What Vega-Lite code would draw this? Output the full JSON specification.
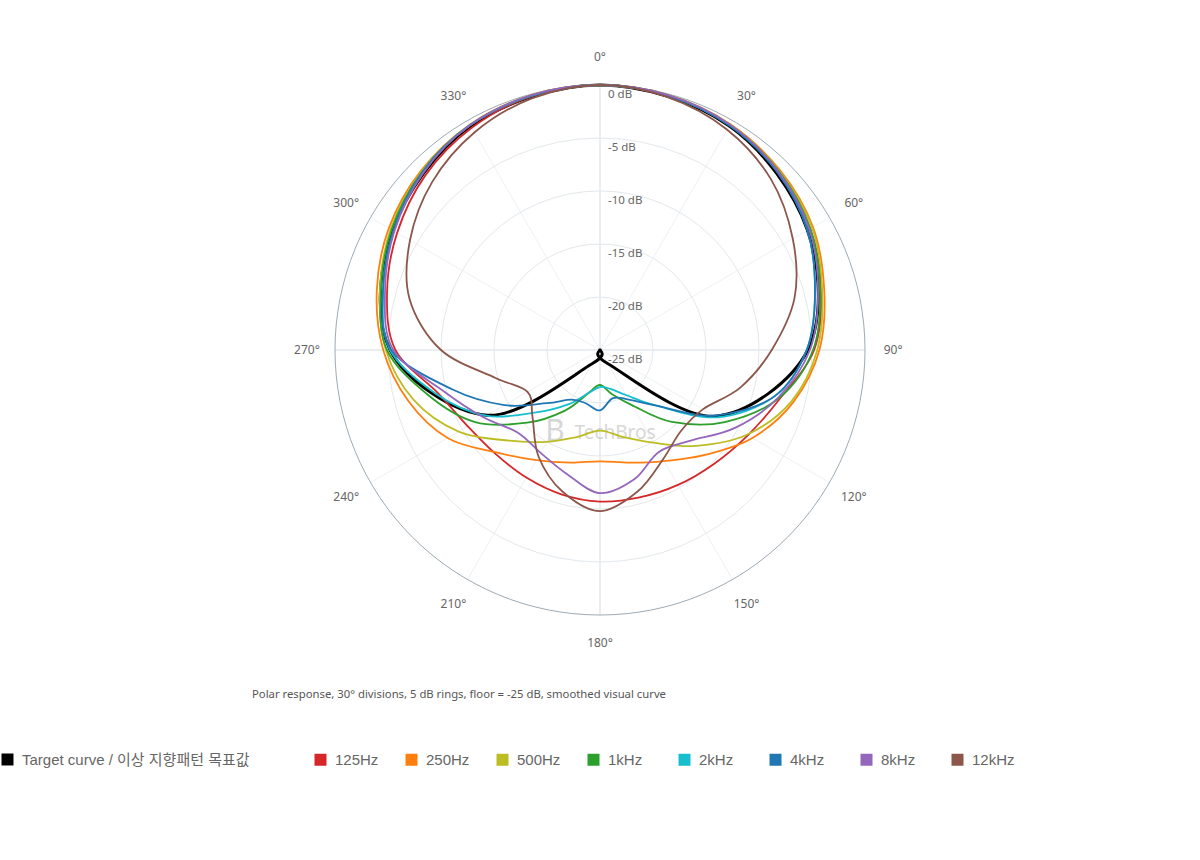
{
  "$schema": "https://vega.github.io/schema/vega-lite/v6.json",
  "width": 530,
  "height": 530,
  "autosize": {"type": "none"},
  "padding": {"left": 335, "top": 85, "right": 335, "bottom": 245},
  "background": "white",
  "config": {"view": {"stroke": null}, "font": "Noto Sans, Noto Sans CJK KR"},
  "title": {
    "text": "Polar response, 30° divisions, 5 dB rings, floor = -25 dB, smoothed visual curve",
    "orient": "bottom", "anchor": "start", "frame": "group",
    "offset": -79, "dx": -83, "fontSize": 11.3, "fontWeight": "normal",
    "color": "#555555", "font": "Noto Sans"
  },
  "datasets": {
    "rings": [{"ring": -20}, {"ring": -15}, {"ring": -10}, {"ring": -5}, {"ring": 0}],
    "ringLabels": [
      {"ring": 0, "label": "0 dB"}, {"ring": -5, "label": "-5 dB"}, {"ring": -10, "label": "-10 dB"},
      {"ring": -15, "label": "-15 dB"}, {"ring": -20, "label": "-20 dB"}, {"ring": -25, "label": "-25 dB"}
    ],
    "spokes": [
      {"angle": 0, "label": "0°"}, {"angle": 30, "label": "30°"}, {"angle": 60, "label": "60°"},
      {"angle": 90, "label": "90°"}, {"angle": 120, "label": "120°"}, {"angle": 150, "label": "150°"},
      {"angle": 180, "label": "180°"}, {"angle": 210, "label": "210°"}, {"angle": 240, "label": "240°"},
      {"angle": 270, "label": "270°"}, {"angle": 300, "label": "300°"}, {"angle": 330, "label": "330°"}
    ],
    "watermark": [
      {"text": "TechBros", "wx": 1.42, "wy": -7.83, "kind": "word"},
      {"text": "B", "wx": -4.25, "wy": -7.7, "kind": "logo"}
    ],
    "target": [
      {"series": "Target curve / 이상 지향패턴 목표값", "angle": 0, "db": 0},
      {"series": "Target curve / 이상 지향패턴 목표값", "angle": 30, "db": -0.6},
      {"series": "Target curve / 이상 지향패턴 목표값", "angle": 60, "db": -2.4},
      {"series": "Target curve / 이상 지향패턴 목표값", "angle": 90, "db": -5.4},
      {"series": "Target curve / 이상 지향패턴 목표값", "angle": 120, "db": -12.5},
      {"series": "Target curve / 이상 지향패턴 목표값", "angle": 150, "db": -23.5},
      {"series": "Target curve / 이상 지향패턴 목표값", "angle": 180, "db": -25},
      {"series": "Target curve / 이상 지향패턴 목표값", "angle": 210, "db": -23.5},
      {"series": "Target curve / 이상 지향패턴 목표값", "angle": 240, "db": -12.7},
      {"series": "Target curve / 이상 지향패턴 목표값", "angle": 270, "db": -5.2},
      {"series": "Target curve / 이상 지향패턴 목표값", "angle": 300, "db": -2.4},
      {"series": "Target curve / 이상 지향패턴 목표값", "angle": 330, "db": -0.6}
    ],
    "curves": [
      {"series": "125Hz", "angle": 0, "db": 0}, {"series": "125Hz", "angle": 15, "db": -0.15},
      {"series": "125Hz", "angle": 30, "db": -0.5}, {"series": "125Hz", "angle": 45, "db": -1.2},
      {"series": "125Hz", "angle": 60, "db": -2.1}, {"series": "125Hz", "angle": 75, "db": -3.4},
      {"series": "125Hz", "angle": 90, "db": -4.8}, {"series": "125Hz", "angle": 105, "db": -7.4},
      {"series": "125Hz", "angle": 120, "db": -8.9}, {"series": "125Hz", "angle": 135, "db": -9.8},
      {"series": "125Hz", "angle": 150, "db": -10.3}, {"series": "125Hz", "angle": 165, "db": -10.6},
      {"series": "125Hz", "angle": 180, "db": -10.7}, {"series": "125Hz", "angle": 195, "db": -10.9},
      {"series": "125Hz", "angle": 210, "db": -11.1}, {"series": "125Hz", "angle": 225, "db": -11.1},
      {"series": "125Hz", "angle": 240, "db": -10.6}, {"series": "125Hz", "angle": 255, "db": -9.2},
      {"series": "125Hz", "angle": 270, "db": -5.7}, {"series": "125Hz", "angle": 285, "db": -4.2},
      {"series": "125Hz", "angle": 300, "db": -2.9}, {"series": "125Hz", "angle": 315, "db": -1.7},
      {"series": "125Hz", "angle": 330, "db": -0.8}, {"series": "125Hz", "angle": 345, "db": -0.2},

      {"series": "250Hz", "angle": 0, "db": 0}, {"series": "250Hz", "angle": 15, "db": -0.1},
      {"series": "250Hz", "angle": 30, "db": -0.4}, {"series": "250Hz", "angle": 45, "db": -1.0},
      {"series": "250Hz", "angle": 60, "db": -1.8}, {"series": "250Hz", "angle": 75, "db": -3.1},
      {"series": "250Hz", "angle": 90, "db": -4.3}, {"series": "250Hz", "angle": 105, "db": -6.1},
      {"series": "250Hz", "angle": 120, "db": -8.4}, {"series": "250Hz", "angle": 135, "db": -11.0},
      {"series": "250Hz", "angle": 150, "db": -12.9}, {"series": "250Hz", "angle": 165, "db": -14.0},
      {"series": "250Hz", "angle": 180, "db": -14.5}, {"series": "250Hz", "angle": 195, "db": -14.0},
      {"series": "250Hz", "angle": 210, "db": -13.0}, {"series": "250Hz", "angle": 225, "db": -11.3},
      {"series": "250Hz", "angle": 240, "db": -8.4}, {"series": "250Hz", "angle": 255, "db": -6.3},
      {"series": "250Hz", "angle": 270, "db": -4.55}, {"series": "250Hz", "angle": 285, "db": -3.2},
      {"series": "250Hz", "angle": 300, "db": -2.0}, {"series": "250Hz", "angle": 315, "db": -1.1},
      {"series": "250Hz", "angle": 330, "db": -0.45}, {"series": "250Hz", "angle": 345, "db": -0.1},

      {"series": "500Hz", "angle": 0, "db": 0}, {"series": "500Hz", "angle": 15, "db": -0.1},
      {"series": "500Hz", "angle": 30, "db": -0.45}, {"series": "500Hz", "angle": 45, "db": -1.1},
      {"series": "500Hz", "angle": 60, "db": -1.9}, {"series": "500Hz", "angle": 75, "db": -3.3},
      {"series": "500Hz", "angle": 90, "db": -4.5}, {"series": "500Hz", "angle": 105, "db": -6.3},
      {"series": "500Hz", "angle": 120, "db": -9.0}, {"series": "500Hz", "angle": 135, "db": -12.2},
      {"series": "500Hz", "angle": 150, "db": -14.9}, {"series": "500Hz", "angle": 165, "db": -16.5},
      {"series": "500Hz", "angle": 180, "db": -17.4}, {"series": "500Hz", "angle": 195, "db": -16.5},
      {"series": "500Hz", "angle": 210, "db": -15.0}, {"series": "500Hz", "angle": 225, "db": -12.9},
      {"series": "500Hz", "angle": 240, "db": -9.6}, {"series": "500Hz", "angle": 255, "db": -6.8},
      {"series": "500Hz", "angle": 270, "db": -4.8}, {"series": "500Hz", "angle": 285, "db": -3.5},
      {"series": "500Hz", "angle": 300, "db": -2.2}, {"series": "500Hz", "angle": 315, "db": -1.2},
      {"series": "500Hz", "angle": 330, "db": -0.5}, {"series": "500Hz", "angle": 345, "db": -0.1},

      {"series": "1kHz", "angle": 0, "db": 0}, {"series": "1kHz", "angle": 15, "db": -0.15},
      {"series": "1kHz", "angle": 30, "db": -0.5}, {"series": "1kHz", "angle": 45, "db": -1.15},
      {"series": "1kHz", "angle": 60, "db": -2.1}, {"series": "1kHz", "angle": 75, "db": -3.5},
      {"series": "1kHz", "angle": 90, "db": -4.9}, {"series": "1kHz", "angle": 105, "db": -7.5},
      {"series": "1kHz", "angle": 120, "db": -11.4}, {"series": "1kHz", "angle": 135, "db": -15.4},
      {"series": "1kHz", "angle": 150, "db": -19.0}, {"series": "1kHz", "angle": 165, "db": -20.7},
      {"series": "1kHz", "angle": 180, "db": -21.7}, {"series": "1kHz", "angle": 195, "db": -20.8},
      {"series": "1kHz", "angle": 210, "db": -18.4}, {"series": "1kHz", "angle": 225, "db": -15.3},
      {"series": "1kHz", "angle": 240, "db": -11.4}, {"series": "1kHz", "angle": 255, "db": -8.3},
      {"series": "1kHz", "angle": 270, "db": -4.9}, {"series": "1kHz", "angle": 285, "db": -3.6},
      {"series": "1kHz", "angle": 300, "db": -2.3}, {"series": "1kHz", "angle": 315, "db": -1.25},
      {"series": "1kHz", "angle": 330, "db": -0.5}, {"series": "1kHz", "angle": 345, "db": -0.15},

      {"series": "2kHz", "angle": 0, "db": 0}, {"series": "2kHz", "angle": 15, "db": -0.15},
      {"series": "2kHz", "angle": 30, "db": -0.55}, {"series": "2kHz", "angle": 45, "db": -1.3},
      {"series": "2kHz", "angle": 60, "db": -2.4}, {"series": "2kHz", "angle": 75, "db": -4.0},
      {"series": "2kHz", "angle": 90, "db": -5.5}, {"series": "2kHz", "angle": 105, "db": -8.0},
      {"series": "2kHz", "angle": 120, "db": -12.3}, {"series": "2kHz", "angle": 135, "db": -17.6},
      {"series": "2kHz", "angle": 150, "db": -20.1}, {"series": "2kHz", "angle": 165, "db": -21.2},
      {"series": "2kHz", "angle": 180, "db": -21.5}, {"series": "2kHz", "angle": 195, "db": -20.8},
      {"series": "2kHz", "angle": 210, "db": -19.1}, {"series": "2kHz", "angle": 225, "db": -16.7},
      {"series": "2kHz", "angle": 240, "db": -12.6}, {"series": "2kHz", "angle": 255, "db": -9.0},
      {"series": "2kHz", "angle": 270, "db": -5.2}, {"series": "2kHz", "angle": 285, "db": -3.8},
      {"series": "2kHz", "angle": 300, "db": -2.5}, {"series": "2kHz", "angle": 315, "db": -1.3},
      {"series": "2kHz", "angle": 330, "db": -0.5}, {"series": "2kHz", "angle": 345, "db": -0.15},

      {"series": "4kHz", "angle": 0, "db": 0}, {"series": "4kHz", "angle": 15, "db": -0.15},
      {"series": "4kHz", "angle": 30, "db": -0.55}, {"series": "4kHz", "angle": 45, "db": -1.3},
      {"series": "4kHz", "angle": 60, "db": -2.4}, {"series": "4kHz", "angle": 75, "db": -4.0},
      {"series": "4kHz", "angle": 90, "db": -5.5}, {"series": "4kHz", "angle": 105, "db": -8.0},
      {"series": "4kHz", "angle": 120, "db": -12.6}, {"series": "4kHz", "angle": 135, "db": -17.6},
      {"series": "4kHz", "angle": 150, "db": -19.6}, {"series": "4kHz", "angle": 165, "db": -20.3},
      {"series": "4kHz", "angle": 180, "db": -19.3}, {"series": "4kHz", "angle": 195, "db": -19.8},
      {"series": "4kHz", "angle": 210, "db": -19.6}, {"series": "4kHz", "angle": 225, "db": -17.9},
      {"series": "4kHz", "angle": 240, "db": -14.6}, {"series": "4kHz", "angle": 255, "db": -10.6},
      {"series": "4kHz", "angle": 270, "db": -5.3}, {"series": "4kHz", "angle": 285, "db": -3.8},
      {"series": "4kHz", "angle": 300, "db": -2.5}, {"series": "4kHz", "angle": 315, "db": -1.3},
      {"series": "4kHz", "angle": 330, "db": -0.5}, {"series": "4kHz", "angle": 345, "db": -0.15},

      {"series": "8kHz", "angle": 0, "db": 0}, {"series": "8kHz", "angle": 15, "db": -0.1},
      {"series": "8kHz", "angle": 30, "db": -0.45}, {"series": "8kHz", "angle": 45, "db": -1.2},
      {"series": "8kHz", "angle": 60, "db": -2.2}, {"series": "8kHz", "angle": 75, "db": -3.7},
      {"series": "8kHz", "angle": 90, "db": -5.2}, {"series": "8kHz", "angle": 105, "db": -7.6},
      {"series": "8kHz", "angle": 120, "db": -10.3}, {"series": "8kHz", "angle": 135, "db": -12.9},
      {"series": "8kHz", "angle": 150, "db": -13.9}, {"series": "8kHz", "angle": 165, "db": -12.4},
      {"series": "8kHz", "angle": 180, "db": -11.5}, {"series": "8kHz", "angle": 195, "db": -12.9},
      {"series": "8kHz", "angle": 210, "db": -13.8}, {"series": "8kHz", "angle": 225, "db": -14.0},
      {"series": "8kHz", "angle": 240, "db": -12.3}, {"series": "8kHz", "angle": 255, "db": -9.8},
      {"series": "8kHz", "angle": 270, "db": -5.5}, {"series": "8kHz", "angle": 285, "db": -4.0},
      {"series": "8kHz", "angle": 300, "db": -2.6}, {"series": "8kHz", "angle": 315, "db": -1.4},
      {"series": "8kHz", "angle": 330, "db": -0.5}, {"series": "8kHz", "angle": 345, "db": -0.1},

      {"series": "12kHz", "angle": 0, "db": 0}, {"series": "12kHz", "angle": 15, "db": -0.3},
      {"series": "12kHz", "angle": 30, "db": -1.0}, {"series": "12kHz", "angle": 45, "db": -2.2},
      {"series": "12kHz", "angle": 60, "db": -4.0}, {"series": "12kHz", "angle": 75, "db": -6.0},
      {"series": "12kHz", "angle": 90, "db": -8.8}, {"series": "12kHz", "angle": 105, "db": -11.3},
      {"series": "12kHz", "angle": 120, "db": -13.8}, {"series": "12kHz", "angle": 135, "db": -14.2},
      {"series": "12kHz", "angle": 150, "db": -13.1}, {"series": "12kHz", "angle": 165, "db": -11.2},
      {"series": "12kHz", "angle": 180, "db": -9.8}, {"series": "12kHz", "angle": 195, "db": -11.2},
      {"series": "12kHz", "angle": 210, "db": -13.4}, {"series": "12kHz", "angle": 225, "db": -16.0},
      {"series": "12kHz", "angle": 240, "db": -17.1}, {"series": "12kHz", "angle": 255, "db": -14.8},
      {"series": "12kHz", "angle": 270, "db": -10.0}, {"series": "12kHz", "angle": 285, "db": -6.4},
      {"series": "12kHz", "angle": 300, "db": -4.3}, {"series": "12kHz", "angle": 315, "db": -2.6},
      {"series": "12kHz", "angle": 330, "db": -1.3}, {"series": "12kHz", "angle": 345, "db": -0.4}
    ]
  },
  "layer": [
    {
      "data": {"name": "spokes"},
      "transform": [
        {"calculate": "0", "as": "c0"},
        {"calculate": "25 * sin(datum.angle * PI / 180)", "as": "sx"},
        {"calculate": "25 * cos(datum.angle * PI / 180)", "as": "sy"}
      ],
      "mark": {"type": "rule", "strokeWidth": 1},
      "encoding": {
        "x": {"field": "c0", "type": "quantitative", "scale": {"domain": [-25, 25], "nice": false, "zero": false}, "axis": null},
        "y": {"field": "c0", "type": "quantitative", "scale": {"domain": [-25, 25], "nice": false, "zero": false}, "axis": null},
        "x2": {"field": "sx"},
        "y2": {"field": "sy"},
        "stroke": {"condition": {"test": "datum.angle % 90 === 0", "value": "#d6dde3"}, "value": "#edf0f3"}
      }
    },
    {
      "data": {"name": "rings"},
      "transform": [
        {"calculate": "0", "as": "c0"},
        {"calculate": "datum.ring + 25", "as": "rr"}
      ],
      "mark": {"type": "point", "shape": "circle", "filled": false, "strokeWidth": 1, "opacity": 1},
      "encoding": {
        "x": {"field": "c0", "type": "quantitative", "scale": {"domain": [-25, 25], "nice": false, "zero": false}, "axis": null},
        "y": {"field": "c0", "type": "quantitative", "scale": {"domain": [-25, 25], "nice": false, "zero": false}, "axis": null},
        "size": {"field": "rr", "type": "quantitative", "scale": {"type": "pow", "exponent": 2, "domain": [0, 25], "range": [0, 280900]}, "legend": null},
        "stroke": {"condition": {"test": "datum.ring === 0", "value": "#9eaab4"}, "value": "#e3e8ec"}
      }
    },
    {
      "data": {"name": "spokes"},
      "transform": [
        {"calculate": "27.65 * sin(datum.angle * PI / 180)", "as": "lx"},
        {"calculate": "27.65 * cos(datum.angle * PI / 180)", "as": "ly"}
      ],
      "mark": {"type": "text", "fontSize": 12, "color": "#666666", "align": "center", "baseline": "middle"},
      "encoding": {
        "x": {"field": "lx", "type": "quantitative", "scale": {"domain": [-25, 25], "nice": false, "zero": false}, "axis": null},
        "y": {"field": "ly", "type": "quantitative", "scale": {"domain": [-25, 25], "nice": false, "zero": false}, "axis": null},
        "text": {"field": "label", "type": "nominal"}
      }
    },
    {
      "data": {"name": "ringLabels"},
      "transform": [
        {"calculate": "0", "as": "c0"},
        {"calculate": "datum.ring + 25", "as": "rr"}
      ],
      "mark": {"type": "text", "fontSize": 11.5, "color": "#666666", "align": "left", "baseline": "middle", "dx": 8, "dy": 10},
      "encoding": {
        "x": {"field": "c0", "type": "quantitative", "scale": {"domain": [-25, 25], "nice": false, "zero": false}, "axis": null},
        "y": {"field": "rr", "type": "quantitative", "scale": {"domain": [-25, 25], "nice": false, "zero": false}, "axis": null},
        "text": {"field": "label", "type": "nominal"}
      }
    },
    {
      "data": {"name": "watermark"},
      "mark": {"type": "text", "color": "#bdbdbd", "opacity": 0.6, "align": "center", "baseline": "middle"},
      "encoding": {
        "x": {"field": "wx", "type": "quantitative", "scale": {"domain": [-25, 25], "nice": false, "zero": false}, "axis": null},
        "y": {"field": "wy", "type": "quantitative", "scale": {"domain": [-25, 25], "nice": false, "zero": false}, "axis": null},
        "text": {"field": "text", "type": "nominal"},
        "size": {"condition": {"test": "datum.kind === 'logo'", "value": 30}, "value": 19},
        "fontWeight": {"condition": {"test": "datum.kind === 'logo'", "value": "bold"}, "value": "normal"}
      }
    },
    {
      "data": {"name": "target"},
      "transform": [
        {"calculate": "max(0, datum.db + 25)", "as": "r"},
        {"calculate": "datum.r * sin(datum.angle * PI / 180)", "as": "px"},
        {"calculate": "datum.r * cos(datum.angle * PI / 180)", "as": "py"}
      ],
      "mark": {"type": "line", "interpolate": "cardinal-closed", "strokeJoin": "round", "strokeWidth": 3},
      "encoding": {
        "x": {"field": "px", "type": "quantitative", "scale": {"domain": [-25, 25], "nice": false, "zero": false}, "axis": null},
        "y": {"field": "py", "type": "quantitative", "scale": {"domain": [-25, 25], "nice": false, "zero": false}, "axis": null},
        "order": {"field": "angle", "type": "quantitative"},
        "stroke": {
          "field": "series", "type": "nominal",
          "scale": {"domain": ["Target curve / 이상 지향패턴 목표값"], "range": ["#000000"]},
          "legend": {
            "orient": "none", "legendX": -335, "legendY": 667, "direction": "horizontal",
            "title": null, "padding": 0, "symbolType": "square", "symbolSize": 144, "symbolStrokeWidth": 0,
            "labelFontSize": 15, "labelColor": "#666666", "labelFont": "Liberation Sans, Noto Sans CJK KR",
            "labelOffset": 7, "labelLimit": 500,
            "encode": {"symbols": {"update": {"fill": {"value": "#000000"}, "opacity": {"value": 1}}}}
          }
        }
      }
    },
    {
      "data": {"name": "curves"},
      "transform": [
        {"calculate": "max(0, datum.db + 25)", "as": "r"},
        {"calculate": "datum.r * sin(datum.angle * PI / 180)", "as": "px"},
        {"calculate": "datum.r * cos(datum.angle * PI / 180)", "as": "py"}
      ],
      "mark": {"type": "line", "interpolate": "cardinal-closed", "strokeJoin": "round", "strokeWidth": 1.8},
      "encoding": {
        "x": {"field": "px", "type": "quantitative", "scale": {"domain": [-25, 25], "nice": false, "zero": false}, "axis": null},
        "y": {"field": "py", "type": "quantitative", "scale": {"domain": [-25, 25], "nice": false, "zero": false}, "axis": null},
        "order": {"field": "angle", "type": "quantitative"},
        "color": {
          "field": "series", "type": "nominal",
          "scale": {
            "domain": ["125Hz", "250Hz", "500Hz", "1kHz", "2kHz", "4kHz", "8kHz", "12kHz"],
            "range": ["#d62728", "#ff7f0e", "#bcbd22", "#2ca02c", "#17becf", "#1f77b4", "#9467bd", "#8c564b"]
          },
          "legend": {
            "orient": "none", "legendX": -22, "legendY": 667, "direction": "horizontal", "columns": 8,
            "gridAlign": "all",
            "title": null, "padding": 0, "symbolType": "square", "symbolSize": 144, "symbolStrokeWidth": 0,
            "labelFontSize": 15, "labelColor": "#666666", "labelFont": "Liberation Sans, Noto Sans CJK KR",
            "labelOffset": 7, "columnPadding": 25, "labelLimit": 500,
            "encode": {"symbols": {"update": {"fill": {"scale": "color", "field": "value"}, "opacity": {"value": 1}}}}
          }
        }
      }
    }
  ]
}
